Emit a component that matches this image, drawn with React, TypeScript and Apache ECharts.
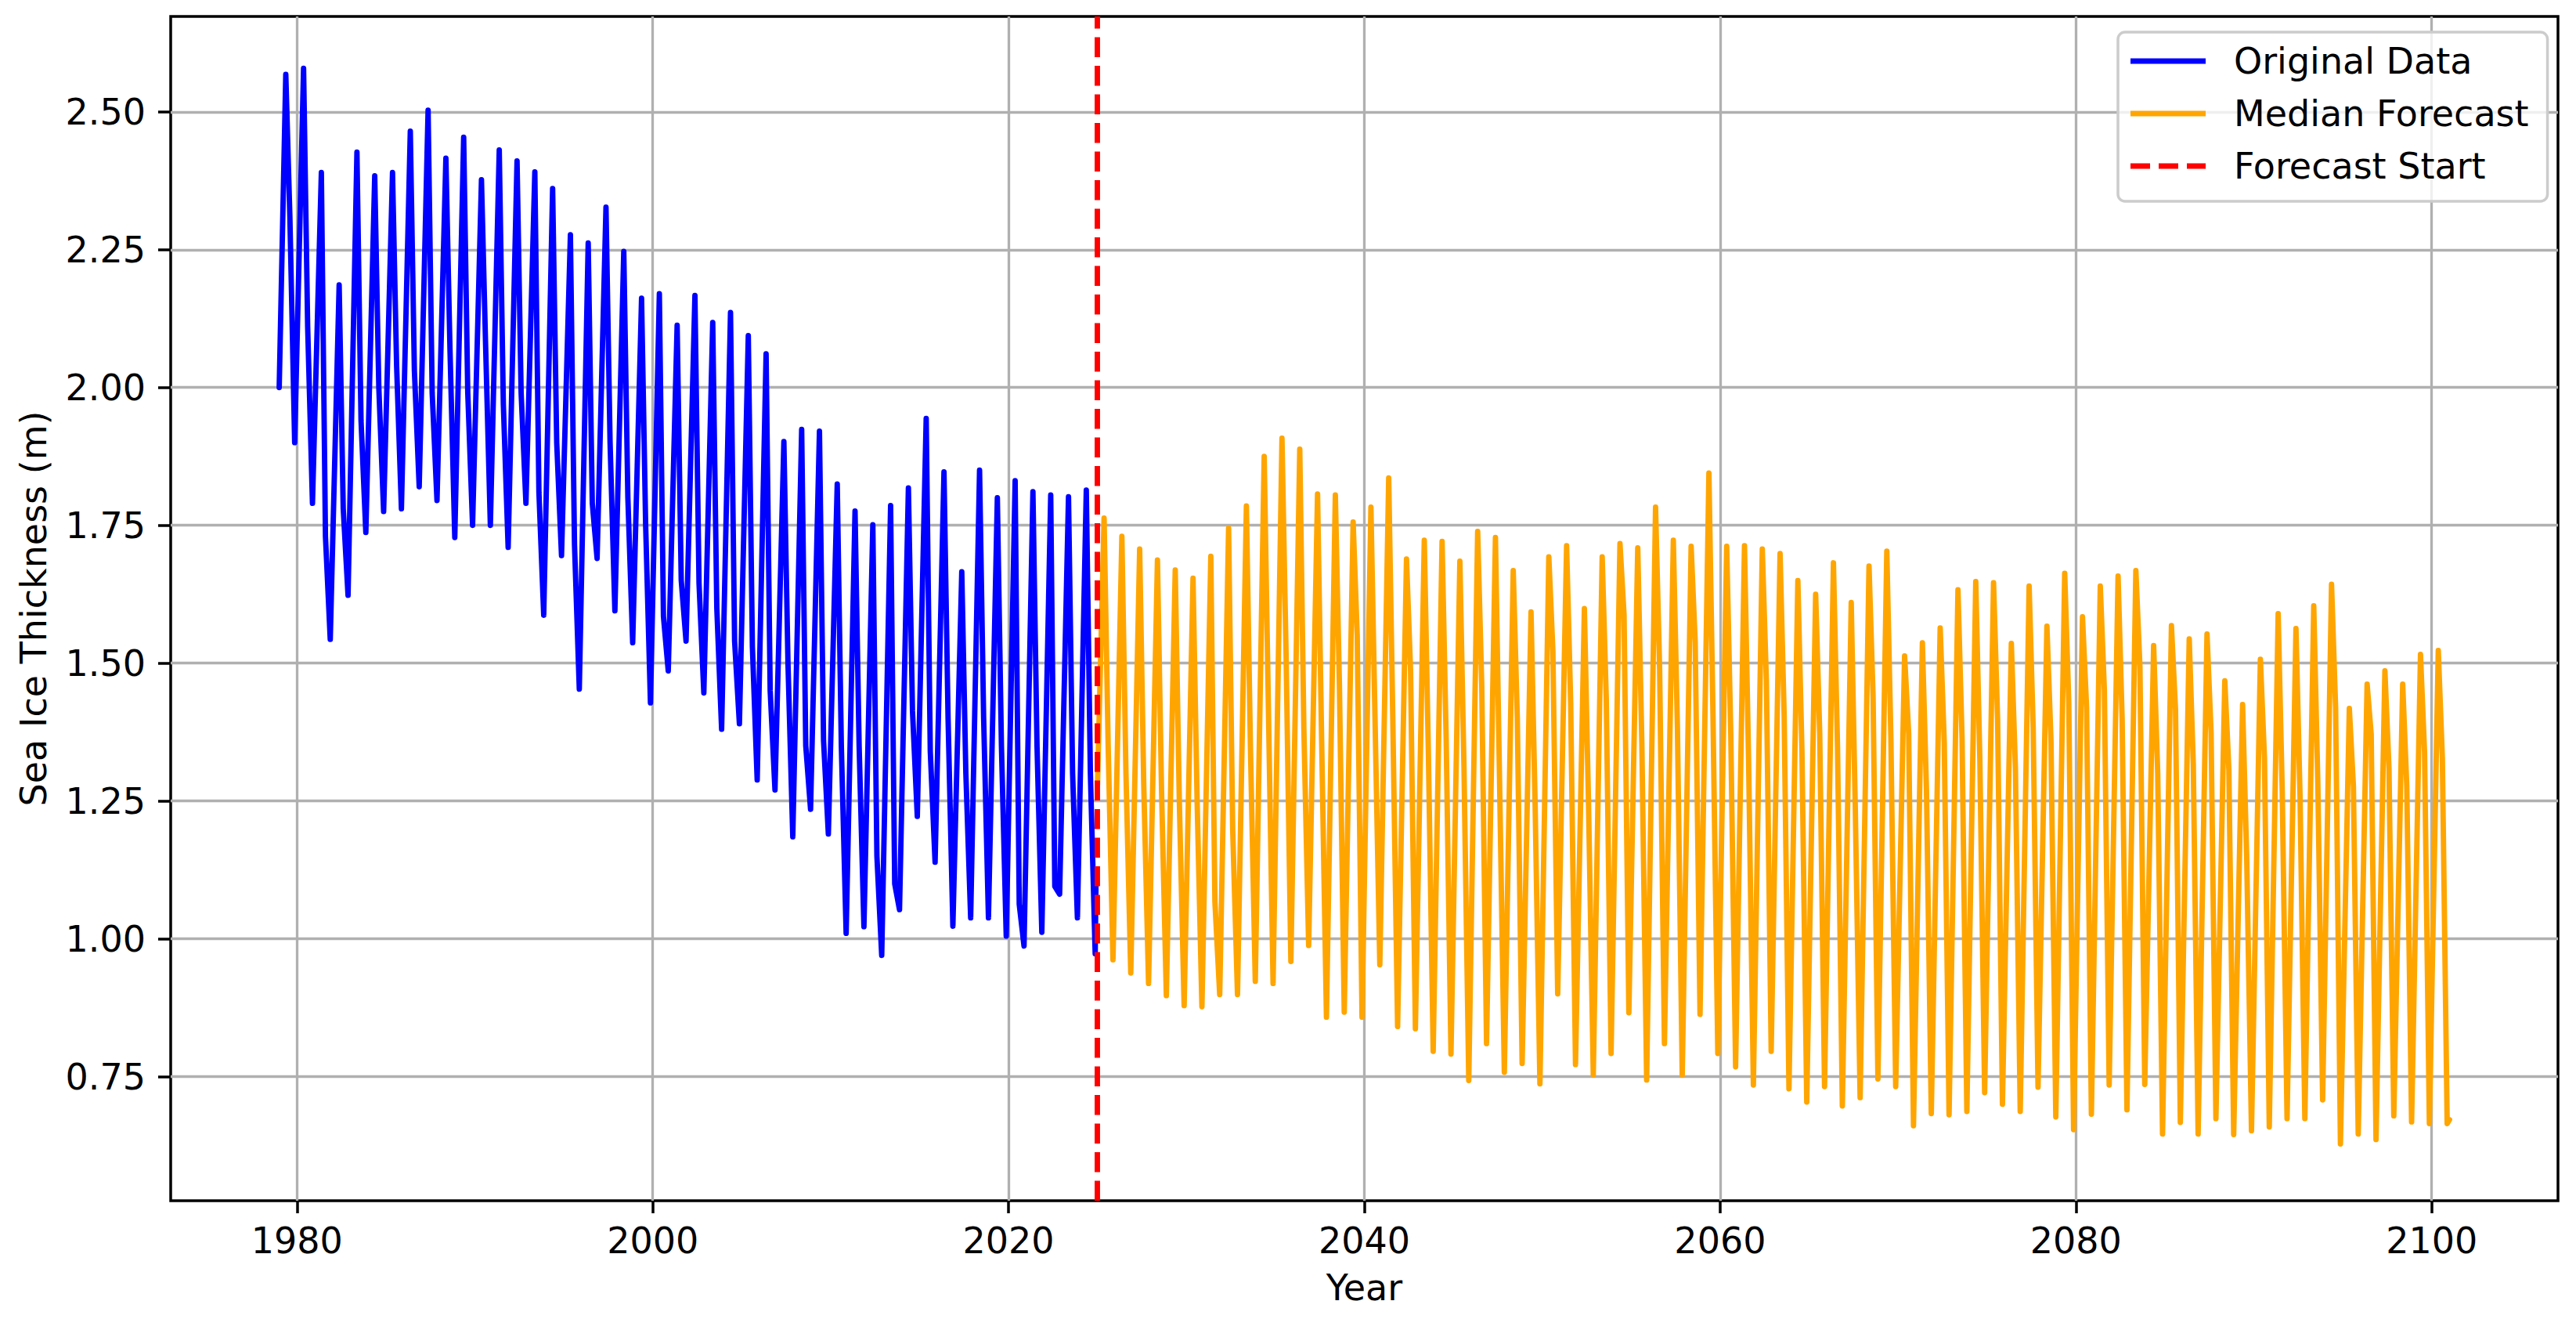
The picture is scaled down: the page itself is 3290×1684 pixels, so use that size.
import React, { useEffect, useRef } from "react";
import * as echarts from "echarts";

// ---- axis ranges & ticks ----
const X_MIN = 1972.9;
const X_MAX = 2107.1;
const Y_MIN = 0.525;
const Y_MAX = 2.673;
const xTicks = [1980, 2000, 2020, 2040, 2060, 2080, 2100];
const yTicks = [0.75, 1.0, 1.25, 1.5, 1.75, 2.0, 2.25, 2.5];
const FORECAST_START = 2025.0;

// ---- seasonal timing within a year (fraction of year) ----
const PEAK_T = 0.37;
const SHOULDER_T = 0.6;
const TROUGH_T = 0.87;

// ---- Original data (1979–2024), per year ----
const BLUE_START_YEAR = 1979;
const blueStartValue = 2.0;
const bluePeaks = [
  2.568, 2.579, 2.39, 2.186, 2.427, 2.384, 2.39, 2.465, 2.503, 2.416,
  2.454, 2.377, 2.431, 2.411, 2.391, 2.361, 2.277, 2.262, 2.327, 2.247,
  2.162, 2.17, 2.113, 2.167, 2.118, 2.136, 2.094, 2.061, 1.902, 1.924,
  1.921, 1.825, 1.776, 1.751, 1.786, 1.818, 1.944, 1.847, 1.666, 1.85,
  1.8, 1.831, 1.811, 1.805, 1.802, 1.814,
];
const blueShoulders = [
  2.31, 2.11, 1.73, 1.78, 1.94, 2.0, 2.04, 2.03, 1.99, 2.07,
  1.99, 2.08, 1.97, 1.99, 1.81, 1.9, 1.715, 1.79, 1.9, 1.8,
  1.75, 1.585, 1.65, 1.645, 1.6, 1.54, 1.53, 1.45, 1.5, 1.35,
  1.36, 1.35, 1.35, 1.15, 1.1, 1.413, 1.34, 1.4, 1.3, 1.4,
  1.35, 1.063, 1.35, 1.095, 1.3, 1.3,
];
const blueTroughs = [
  1.9, 1.79, 1.543, 1.623, 1.737, 1.775, 1.78, 1.82, 1.795, 1.728,
  1.75, 1.75, 1.71, 1.79, 1.587, 1.695, 1.453, 1.69, 1.595, 1.537,
  1.428, 1.486, 1.54, 1.446, 1.38, 1.39, 1.288, 1.27, 1.185, 1.235,
  1.19, 1.01, 1.022, 0.97, 1.053, 1.222, 1.139, 1.023, 1.038, 1.038,
  1.005, 0.987, 1.012, 1.081, 1.038, 0.973,
];
const blueEnd: [number, number] = [2024.92, 1.12];

// ---- Median forecast (2025–2100), per year ----
const ORANGE_START_YEAR = 2025;
const orangeStartValue = 1.28;
const orangePeaks = [
  1.763, 1.73, 1.707, 1.687, 1.669, 1.654, 1.694, 1.745, 1.785, 1.875,
  1.908, 1.888, 1.807, 1.805, 1.756, 1.783, 1.836, 1.689, 1.723, 1.721,
  1.685, 1.739, 1.728, 1.668, 1.593, 1.693, 1.713, 1.599, 1.693, 1.717,
  1.709, 1.783, 1.723, 1.712, 1.845, 1.712, 1.713, 1.707, 1.699, 1.65,
  1.625, 1.682, 1.61, 1.676, 1.703, 1.513, 1.537, 1.564, 1.633, 1.648,
  1.646, 1.536, 1.64, 1.567, 1.663, 1.584, 1.64, 1.658, 1.668, 1.532,
  1.568, 1.544, 1.553, 1.468, 1.425, 1.507, 1.59, 1.563, 1.604, 1.643,
  1.418, 1.462, 1.486, 1.462, 1.516, 1.523,
];
const orangeShoulders = [
  1.35, 1.3, 1.28, 1.27, 1.25, 1.25, 1.067, 1.198, 1.343, 1.433,
  1.517, 1.383, 1.36, 1.46, 1.55, 1.4, 1.4, 1.485, 1.338, 1.363,
  1.314, 1.46, 1.29, 1.4, 1.245, 1.522, 1.428, 1.249, 1.436, 1.587,
  1.355, 1.489, 1.383, 1.538, 1.404, 1.371, 1.326, 1.469, 1.405, 1.34,
  1.372, 1.348, 1.234, 1.438, 1.364, 1.372, 1.27, 1.356, 1.364, 1.327,
  1.397, 1.31, 1.382, 1.359, 1.428, 1.42, 1.451, 1.397, 1.493, 1.3,
  1.416, 1.316, 1.374, 1.306, 1.15, 1.328, 1.266, 1.259, 1.283, 1.419,
  1.277, 1.371, 1.309, 1.277, 1.338, 1.328,
];
const orangeTroughs = [
  0.962, 0.938, 0.919, 0.897, 0.879, 0.877, 0.899, 0.899, 0.923, 0.919,
  0.959, 0.988, 0.858, 0.867, 0.858, 0.953, 0.841, 0.837, 0.796, 0.791,
  0.743, 0.81, 0.758, 0.774, 0.737, 0.9, 0.772, 0.753, 0.792, 0.866,
  0.744, 0.81, 0.753, 0.863, 0.792, 0.768, 0.735, 0.796, 0.728, 0.704,
  0.732, 0.697, 0.712, 0.746, 0.732, 0.661, 0.683, 0.681, 0.687, 0.721,
  0.7, 0.687, 0.731, 0.677, 0.654, 0.682, 0.735, 0.69, 0.736, 0.646,
  0.667, 0.646, 0.674, 0.645, 0.652, 0.659, 0.674, 0.674, 0.708, 0.628,
  0.646, 0.636, 0.679, 0.668, 0.665, 0.665,
];
const orangeEnd: [number, number] = [2101.0, 0.672];

function buildSeries(
  startYear: number,
  startValue: number,
  peaks: number[],
  shoulders: number[],
  troughs: number[],
  end: [number, number]
): [number, number][] {
  const pts: [number, number][] = [[startYear, startValue]];
  for (let i = 0; i < peaks.length; i++) {
    const yr = startYear + i;
    pts.push([yr + PEAK_T, peaks[i]]);
    pts.push([yr + SHOULDER_T, shoulders[i]]);
    pts.push([yr + TROUGH_T, troughs[i]]);
  }
  pts.push(end);
  return pts;
}

const FONT = "DejaVu Sans";
const FS = 46;
const LW = 6.9;
const DASH_ICON = "path://M0,0H25H25V7H0Z M36,0H61V7H36Z M72,0H96V7H72Z";

export default function App() {
  const ref = useRef<HTMLDivElement>(null);
  useEffect(() => {
    document.body.style.margin = "0";
    const chart = echarts.init(ref.current!, null, { renderer: "svg" });
    const blueData = buildSeries(BLUE_START_YEAR, blueStartValue, bluePeaks, blueShoulders, blueTroughs, blueEnd);
    const orangeData = buildSeries(ORANGE_START_YEAR, orangeStartValue, orangePeaks, orangeShoulders, orangeTroughs, orangeEnd);
    const option: any = {
      animation: false,
      textStyle: { fontFamily: FONT, color: "#000" },
      grid: {
        left: 218,
        right: 23,
        top: 21,
        bottom: 151,
        show: true,
        borderColor: "#000",
        borderWidth: 3.5,
        backgroundColor: "transparent",
      },
      legend: {
        data: [
          { name: "Original Data", icon: "rect" },
          { name: "Median Forecast", icon: "rect" },
          { name: "Forecast Start", icon: DASH_ICON },
        ],
        orient: "vertical",
        left: 2705,
        top: 41,
        itemWidth: 96,
        itemHeight: 7,
        itemGap: 17,
        padding: [12, 24, 20, 16],
        backgroundColor: "rgba(255,255,255,0.8)",
        borderColor: "#cccccc",
        borderWidth: 3.5,
        borderRadius: 9,
        itemStyle: { borderWidth: 0 },
        textStyle: {
          fontFamily: FONT,
          fontSize: FS,
          color: "#000",
          lineHeight: 50,
          padding: [0, 0, 0, 31],
        },
      },
      xAxis: {
        type: "value",
        min: X_MIN,
        max: X_MAX,
        name: "Year",
        nameLocation: "middle",
        nameGap: 88,
        nameTextStyle: { fontFamily: FONT, fontSize: FS, color: "#000" },
        axisLine: { show: false },
        splitLine: { show: false },
        axisTick: {
          show: true,
          length: 16,
          customValues: xTicks,
          lineStyle: { color: "#000", width: 3.5 },
        },
        axisLabel: {
          customValues: xTicks,
          margin: 28,
          fontFamily: FONT,
          fontSize: FS,
          color: "#000",
          formatter: (v: number) => String(Math.round(v)),
        },
      },
      yAxis: {
        type: "value",
        min: Y_MIN,
        max: Y_MAX,
        name: "Sea Ice Thickness (m)",
        nameLocation: "middle",
        nameGap: 152,
        nameRotate: 90,
        nameTextStyle: { fontFamily: FONT, fontSize: FS, color: "#000" },
        axisLine: { show: false },
        splitLine: { show: false },
        axisTick: {
          show: true,
          length: 16,
          customValues: yTicks,
          lineStyle: { color: "#000", width: 3.5 },
        },
        axisLabel: {
          customValues: yTicks,
          margin: 32,
          fontFamily: FONT,
          fontSize: FS,
          color: "#000",
          formatter: (v: number) => v.toFixed(2),
        },
      },
      series: [
        {
          name: "grid",
          type: "line",
          data: [],
          silent: true,
          z: 1,
          markLine: {
            silent: true,
            z: 1,
            symbol: ["none", "none"],
            label: { show: false },
            lineStyle: { color: "#b0b0b0", width: 3.3, type: "solid" },
            emphasis: { disabled: true },
            data: [
              ...xTicks.map((v) => ({ xAxis: v })),
              ...yTicks.map((v) => ({ yAxis: v })),
            ],
          },
        },
        {
          name: "Original Data",
          type: "line",
          data: blueData,
          showSymbol: false,
          symbol: "none",
          z: 3,
          lineStyle: { color: "#0000ff", width: LW, join: "round", cap: "round" },
          itemStyle: { color: "#0000ff" },
        },
        {
          name: "Median Forecast",
          type: "line",
          data: orangeData,
          showSymbol: false,
          symbol: "none",
          z: 3,
          lineStyle: { color: "#ffa500", width: LW, join: "round", cap: "round" },
          itemStyle: { color: "#ffa500" },
        },
        {
          name: "Forecast Start",
          type: "line",
          data: [],
          symbol: "none",
          z: 4,
          lineStyle: { color: "#ff0000", width: LW, type: [25.5, 11] },
          itemStyle: { color: "#ff0000" },
          markLine: {
            silent: true,
            z: 6,
            symbol: ["none", "none"],
            label: { show: false },
            lineStyle: { color: "#ff0000", width: LW, type: [25.5, 11] },
            data: [{ xAxis: FORECAST_START }],
          },
        },
      ],
    };
    chart.setOption(option);
    return () => chart.dispose();
  }, []);
  return <div ref={ref} style={{ width: 3290, height: 1684 }} />;
}
